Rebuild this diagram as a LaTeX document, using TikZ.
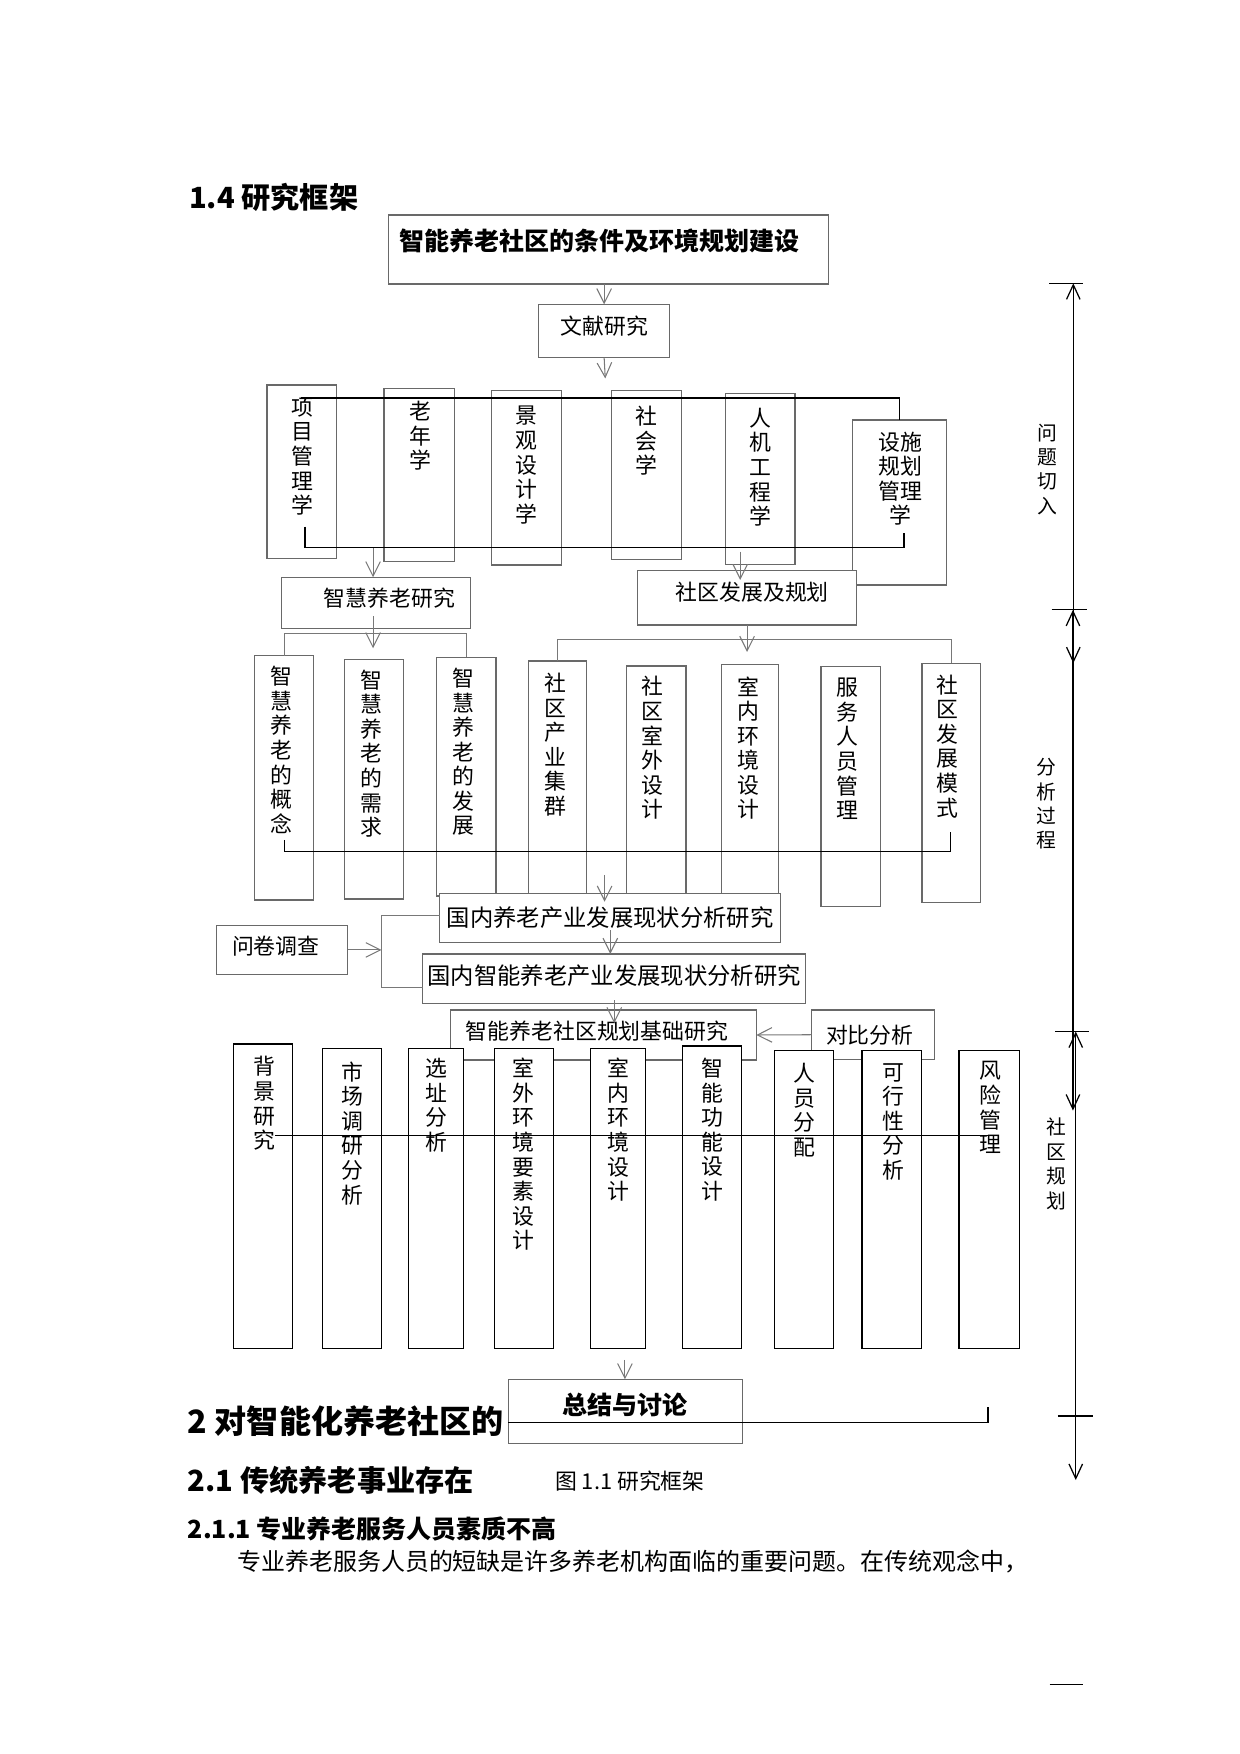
\documentclass[tikz,border=0pt]{standalone}
\usepackage{fontspec}
\setmainfont{Noto Sans CJK SC}
\usetikzlibrary{arrows.meta}

\begin{document}
\begin{tikzpicture}[x=0.539pt, y=-0.539pt,
    box/.style={draw=boxgray, line width=0.6pt, fill=white, inner sep=0pt, outer sep=0pt},
    pbox/.style={draw=black, line width=0.6pt, fill=white, inner sep=0pt, outer sep=0pt},
    vtext/.style={align=center, anchor=north, inner sep=0pt, font=\fontsize{10.5pt}{11.8pt}\selectfont},
    head/.style={anchor=west, inner sep=0pt},
    arr/.style={draw=linegray, line width=0.5pt, -{Straight Barb[length=7pt, width=7pt]}},
    link/.style={draw=linegray, line width=0.5pt},
    rule/.style={draw=black, line width=0.5pt},
    bar/.style={draw=black, line width=0.8pt},
    dim/.style={draw=black, line width=0.6pt, {Straight Barb[length=7pt, width=6.5pt]}-{Straight Barb[length=7pt, width=6.5pt]}}]

      % Define unit and colors
      \def\px{0.539pt}
      \definecolor{boxgray}{RGB}{105,105,105}
      \definecolor{linegray}{RGB}{120,120,120}

      \useasboundingbox (0,0) rectangle (1104,1562);

      % Heading and goal
      \node[head, font=\fontsize{14pt}{16pt}\selectfont\bfseries] (sec14) at (168,176) {1.4 研究框架};
      \node[box, minimum width=392*\px, minimum height=61.5*\px] (goal) at (542,222.25) {};
      \node[head, font=\fontsize{12pt}{14pt}\selectfont\bfseries] (goaltxt) at (355,214.5) {智能养老社区的条件及环境规划建设};

      % Literature study
      \node[box, minimum width=116.7*\px, minimum height=47.5*\px, text depth=5.9pt, font=\fontsize{10.5pt}{12pt}\selectfont] (lit) at (538,294.75) {文献研究};
      \draw[arr] (lit.north |- goal.south) -- (lit.north);
      \coordinate (fieldin) at (539,337);
      \draw[arr] (lit.south) -- (fieldin);

      % Disciplines
      \node[box, minimum width=62.2*\px, minimum height=154.3*\px] (pm) at (268.8,420.05) {};
      \node[box, minimum width=63.1*\px, minimum height=154.4*\px] (ger) at (373.45,423) {};
      \node[box, minimum width=62.3*\px, minimum height=155.2*\px] (land) at (468.85,425.5) {};
      \node[box, minimum width=62.2*\px, minimum height=150.1*\px] (soc) at (575.6,422.95) {};
      \node[box, minimum width=62.2*\px, minimum height=152.2*\px] (erg) at (676.9,426.4) {};
      \node[box, minimum width=83.6*\px, minimum height=147*\px] (fac) at (801.1,447.5) {};

      \node[vtext] (pmt) at (269,354) {项\\目\\管\\理\\学};
      \node[vtext] (gert) at (374.5,357) {老\\年\\学};
      \node[vtext] (landt) at (469,361.5) {景\\观\\设\\计\\学};
      \node[vtext] (soct) at (575.8,361.5) {社\\会\\学};
      \node[vtext] (ergt) at (677,363) {人\\机\\工\\程\\学};
      \node[vtext] (fact) at (802,384) {设施\\规划\\管理\\学};

      % Discipline brackets
      \coordinate (fieldtop) at (268,354.7);
      \draw[bar] (fieldtop) -| (fac.north);
      \coordinate (fieldbotL) at (271.7,469);
      \coordinate (fieldbotR) at (805,474.3);
      \draw[bar] (fieldbotL) -- ++(0,18.7) -| (fieldbotR);

      % Two research lines
      \node[box, minimum width=168.1*\px, minimum height=45.4*\px, text depth=5.2pt, font=\fontsize{10.5pt}{12pt}\selectfont] (smart) at (334.75,536.8) {\hspace*{13pt}智慧养老研究};
      \node[box, minimum width=195.4*\px, minimum height=48.4*\px, text depth=6.4pt, font=\fontsize{10.5pt}{12pt}\selectfont] (comm) at (665.3,532.4) {\hspace*{5pt}社区发展及规划};
      \coordinate (smartin) at (332.2,488.3);
      \draw[arr] (smartin) -- (smartin |- smart.north);
      \coordinate (commin) at (659.2,491.3);
      \draw[arr] (commin) -- ++(0,25.2);

      % Analysis boxes
      \node[box, minimum width=52.6*\px, minimum height=217.5*\px] (c1) at (253,692.65) {};
      \node[box, minimum width=52.1*\px, minimum height=213.4*\px] (c2) at (332.95,693.8) {};
      \node[box, minimum width=53.1*\px, minimum height=212.5*\px] (c3) at (415.25,691.65) {};
      \node[box, minimum width=52.1*\px, minimum height=211.4*\px] (r1) at (496.55,694.3) {};
      \node[box, minimum width=53.1*\px, minimum height=207*\px] (r2) at (584.45,696.5) {};
      \node[box, minimum width=51.1*\px, minimum height=208.4*\px] (r3) at (667.75,695.8) {};
      \node[box, minimum width=52.7*\px, minimum height=213.7*\px] (r4) at (757.45,700.55) {};
      \node[box, minimum width=52.2*\px, minimum height=213.1*\px] (r5) at (847.1,697.25) {};

      \node[vtext] (c1t) at (250.2,593) {智\\慧\\养\\老\\的\\概\\念};
      \node[vtext] (c2t) at (330.8,596) {智\\慧\\养\\老\\的\\需\\求};
      \node[vtext] (c3t) at (412.7,594.5) {智\\慧\\养\\老\\的\\发\\展};
      \node[vtext] (r1t) at (494.3,599) {社\\区\\产\\业\\集\\群};
      \node[vtext] (r2t) at (581.4,602) {社\\区\\室\\外\\设\\计};
      \node[vtext] (r3t) at (666.7,602) {室\\内\\环\\境\\设\\计};
      \node[vtext] (r4t) at (754.6,603.5) {服\\务\\人\\员\\管\\理};
      \node[vtext] (r5t) at (843.9,600.5) {社\\区\\发\\展\\模\\式};

      % Analysis connections
      \coordinate (smartout) at (332.2,549);
      \draw[arr] (smartout) -- ++(0,28.3);
      \coordinate (smartfork) at (334,564);
      \draw[link] (c1.north) |- (smartfork) -| (c3.north);
      \draw[arr] (comm.south) -- ++(0,24);
      \coordinate (commfork) at (665,569.3);
      \draw[link] (r1.north) |- (commfork) -| (r5.north);
      \coordinate (sumL) at (253.7,748);
      \coordinate (sumR) at (846.6,740.6);
      \draw[rule] (sumL) -- ++(0,10.4) -| (sumR);

      % Industry studies
      \node[box, minimum width=303.6*\px, minimum height=43.9*\px, font=\fontsize{11.2pt}{13pt}\selectfont] (dom1) at (543.5,817.45) {国内养老产业发展现状分析研究};
      \coordinate (domin) at (538.4,779.2);
      \draw[arr] (domin) -- ++(0,23.8);
      \node[box, minimum width=341*\px, minimum height=43.9*\px, text depth=3.4pt, font=\fontsize{11.2pt}{13pt}\selectfont] (dom2) at (547,871.45) {国内智能养老产业发展现状分析研究};
      \draw[arr] ([yshift=6pt]dom1.south) -- (dom1.south |- dom2.north);
      \node[box, minimum width=117*\px, minimum height=43.3*\px, text depth=4.5pt, font=\fontsize{10.5pt}{12pt}\selectfont] (ques) at (251.2,845.95) {问卷调查\hspace*{6pt}};
      \coordinate (qfork) at (339.8,845);
      \draw[arr] (ques.east) -- (ques.east -| qfork);
      \draw[link] ([yshift=1pt]dom1.west) -| (qfork) |- ([yshift=-4.3pt]dom2.west);

      % Planning basis
      \node[box, minimum width=272.5*\px, minimum height=44.6*\px, text depth=4.6pt, font=\fontsize{10.5pt}{12pt}\selectfont] (base) at (537.25,921.7) {智能养老社区规划基础研究\hspace*{6pt}};
      \node[box, minimum width=109.8*\px, minimum height=44.1*\px, font=\fontsize{10.5pt}{12pt}\selectfont] (comp) at (777.4,921.45) {对比分析\hspace*{3pt}};
      \draw[arr] ([yshift=1.5pt]dom2.south) -- ++(0,20.5);
      \draw[arr] (comp.west) -- (base.east);

      % Planning boxes
      \node[pbox, minimum width=52.9*\px, minimum height=271.3*\px] (p1) at (234.25,1065.35) {};
      \node[pbox, minimum width=52.9*\px, minimum height=267.5*\px] (p2) at (313.45,1067.25) {};
      \node[pbox, minimum width=49.1*\px, minimum height=267.5*\px] (p3) at (388.25,1067.25) {};
      \node[pbox, minimum width=52.8*\px, minimum height=267.5*\px] (p4) at (466.7,1067.25) {};
      \node[pbox, minimum width=49.1*\px, minimum height=267.5*\px] (p5) at (550.35,1067.25) {};
      \node[pbox, minimum width=52.8*\px, minimum height=269.5*\px] (p6) at (634.1,1066.25) {};
      \node[pbox, minimum width=52.8*\px, minimum height=265.4*\px] (p7) at (716,1068.3) {};
      \node[pbox, minimum width=52.9*\px, minimum height=265.4*\px] (p8) at (794.15,1068.3) {};
      \node[pbox, minimum width=53.8*\px, minimum height=265.4*\px] (p9) at (880.8,1068.3) {};

      \node[vtext] (p1t) at (235.5,940.5) {背\\景\\研\\究};
      \node[vtext] (p2t) at (313.6,945) {市\\场\\调\\研\\分\\析};
      \node[vtext] (p3t) at (388.8,942) {选\\址\\分\\析};
      \node[vtext] (p4t) at (466,942) {室\\外\\环\\境\\要\\素\\设\\计};
      \node[vtext] (p5t) at (551,942) {室\\内\\环\\境\\设\\计};
      \node[vtext] (p6t) at (634.4,942) {智\\能\\功\\能\\设\\计};
      \node[vtext] (p7t) at (716.3,946.5) {人\\员\\分\\配};
      \node[vtext] (p8t) at (795.5,946.5) {可\\行\\性\\分\\析};
      \node[vtext] (p9t) at (881.9,945) {风\\险\\管\\理};

      \coordinate (planL) at (244.8,1011.3);
      \coordinate (planR) at (881.3,1011.3);
      \draw[bar] (planL) -- (planR);

      % Summary
      \node[head, font=\fontsize{15.4pt}{18pt}\selectfont\bfseries] (sec2) at (167,1266) {2 对智能化养老社区的};
      \node[box, minimum width=208.5*\px, minimum height=57*\px, text depth=7.7pt, font=\fontsize{12pt}{14pt}\selectfont\bfseries] (sum) at (556.75,1256.8) {总结与讨论};
      \coordinate (sumin) at (556.5,1211);
      \draw[arr] (sumin) -- (sumin |- sum.north);
      \coordinate (sumend) at (880,1252.6);
      \draw[bar] ([yshift=-5.3pt]sum.west) -| (sumend);

      % Text below
      \node[head, font=\fontsize{14pt}{16pt}\selectfont\bfseries] (sec21) at (167,1318) {2.1 传统养老事业存在};
      \node[head, font=\fontsize{10.5pt}{12pt}\selectfont] (caption) at (494,1318.7) {图 1.1 研究框架};
      \node[head, font=\fontsize{12pt}{14pt}\selectfont\bfseries] (sec211) at (167,1361.7) {2.1.1 专业养老服务人员素质不高};
      \node[head, font=\fontsize{11.5pt}{14pt}\selectfont] (para) at (211,1390.7) {专业养老服务人员的短缺是许多养老机构面临的重要问题。在传统观念中，};

      % Stages on the right
      \coordinate (qa) at (955.8,252.3);
      \coordinate (qb) at (955.8,590.6);
      \draw[dim] (qa) -- (qb);
      \draw[rule] (qa) ++(-21.4,0) -- ++(30.3,0);
      \coordinate (aa) at (955.5,543.1);
      \coordinate (ab) at (955.5,989);
      \draw[dim] (aa) -- (ab);
      \draw[rule] (aa) ++(-19,0) -- ++(31.7,0);
      \coordinate (pa) at (958,918.6);
      \coordinate (pb) at (958,1318);
      \draw[dim] (pa) -- (pb);
      \draw[rule] (pa) ++(-18.5,0) -- ++(30.5,0);
      \coordinate (pc) at (958,1261);
      \draw[rule] (pc) ++(-16,0) -- ++(31,0);

      \node[vtext, font=\fontsize{9.5pt}{11.7pt}\selectfont] (qlab) at (933,377) {问\\题\\切\\入};
      \node[vtext, font=\fontsize{9.5pt}{11.7pt}\selectfont] (alab) at (932,675) {分\\析\\过\\程};
      \node[vtext, font=\fontsize{9.5pt}{11.7pt}\selectfont] (plab) at (940.5,995.5) {社\\区\\规\\划};

      \coordinate (pagedash) at (934.7,1500.5);
      \draw[rule] (pagedash) -- ++(30,0);

    \end{tikzpicture}
\end{document}
